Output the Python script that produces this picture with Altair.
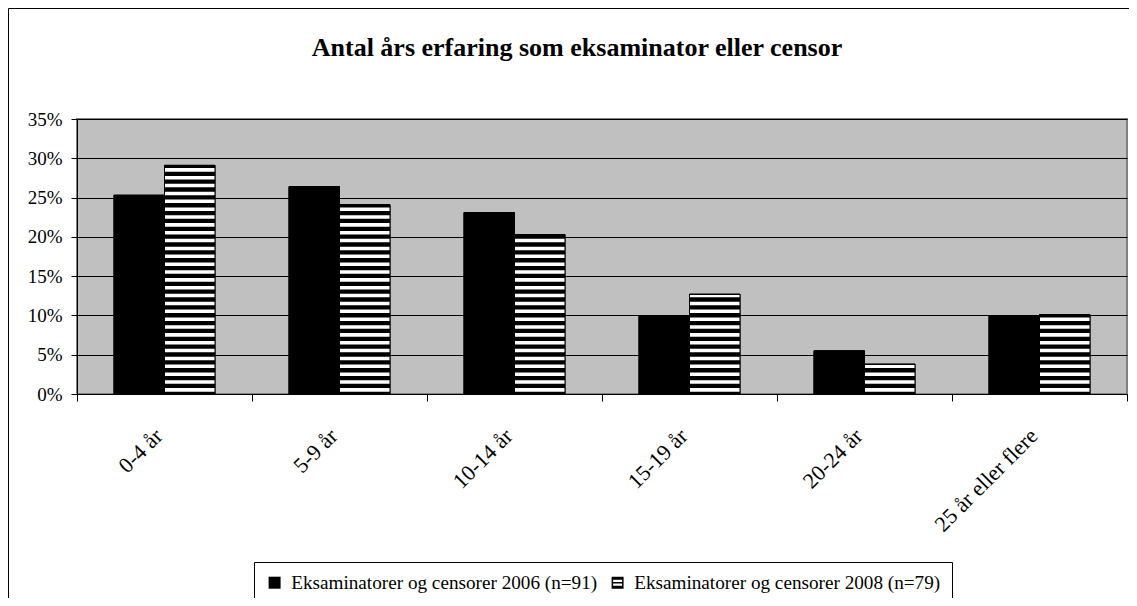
import altair as alt
import pandas as pd

title = "Antal års erfaring som eksaminator eller censor"
categories = ["0-4 år", "5-9 år", "10-14 år", "15-19 år", "20-24 år", "25 år eller flere"]
series = ["Eksaminatorer og censorer 2006 (n=91)", "Eksaminatorer og censorer 2008 (n=79)"]
values_2006 = [0.253, 0.264, 0.231, 0.099, 0.055, 0.099]
values_2008 = [0.291, 0.241, 0.203, 0.127, 0.038, 0.101]
y_ticks = [0, 0.05, 0.10, 0.15, 0.20, 0.25, 0.30, 0.35]

FONT = "Liberation Serif, Times New Roman, serif"

rows = []
for c, v in zip(categories, values_2006):
    rows.append({"cat": c, "series": series[0], "value": v})
for c, v in zip(categories, values_2008):
    rows.append({"cat": c, "series": series[1], "value": v})
df = pd.DataFrame(rows)

# horizontal white stripes for the 2008 series (one per percentage point, derived from the values)
stripes = []
for c, v in zip(categories, values_2008):
    k = 0
    while (k + 0.30) / 100 < v:
        lo = (k + 0.30) / 100
        hi = min((k + 0.75) / 100, v - 0.001)
        if hi > lo:
            stripes.append({"cat": c, "series": series[1], "lo": lo, "hi": hi})
        k += 1
df_str = pd.DataFrame(stripes)

stripe_path = "M-1,-1H1V1H-1Z M-0.75,-0.5V-0.12H0.75V-0.5Z M-0.75,0.14V0.52H0.75V0.14Z"

x_axis = alt.Axis(
    title=None,
    labelAngle=315,
    labelAlign="right",
    labelBaseline="middle",
    labelPadding=31,
    labelOffset=-6,
    labelFont=FONT,
    labelFontSize=22,
    labelColor="black",
    labelOverlap=False,
    tickBand="extent",
    tickSize=7,
    tickColor="black",
    domainColor="black",
    grid=False,
)
# category cells fill the whole width; the gap between groups comes from the offset scale
x_scale = alt.Scale(domain=categories, paddingInner=0, paddingOuter=0)
xo_scale = alt.Scale(domain=series, paddingInner=0, paddingOuter=0.733)
y_scale = alt.Scale(domain=[0, 0.35], nice=False, zero=True)
y_axis = alt.Axis(
    title=None,
    values=y_ticks,
    format=".0%",
    labelFont=FONT,
    labelFontSize=19,
    labelColor="black",
    labelPadding=9,
    labelOverlap=False,
    labelFlush=False,
    tickSize=6,
    tickColor="black",
    domainColor="black",
    grid=True,
    gridColor="black",
    gridWidth=1,
)

bars = alt.Chart(df).mark_bar(color="black", stroke="black", strokeWidth=1).encode(
    x=alt.X("cat:N", sort=categories, scale=x_scale, axis=x_axis),
    xOffset=alt.XOffset("series:N", sort=series, scale=xo_scale),
    y=alt.Y("value:Q", scale=y_scale, axis=y_axis),
)

stripe_layer = alt.Chart(df_str).mark_bar(color="white").encode(
    x=alt.X("cat:N", sort=categories, scale=x_scale, axis=x_axis),
    xOffset=alt.XOffset("series:N", sort=series, scale=xo_scale),
    y=alt.Y("lo:Q", scale=y_scale, axis=y_axis),
    y2="hi:Q",
)

outline = alt.Chart(df).mark_bar(fillOpacity=0, stroke="black", strokeWidth=1).encode(
    x=alt.X("cat:N", sort=categories, scale=x_scale, axis=x_axis),
    xOffset=alt.XOffset("series:N", sort=series, scale=xo_scale),
    y=alt.Y("value:Q", scale=y_scale, axis=y_axis),
)

# off-canvas points (left of the picture) that only carry the legend
legend_layer = alt.Chart(df).mark_point(filled=True, color="black", size=144, opacity=1).encode(
    x=alt.value(-500),
    y=alt.value(100),
    shape=alt.Shape(
        "series:N",
        sort=series,
        scale=alt.Scale(domain=series, range=["square", stripe_path]),
        legend=alt.Legend(
            orient="none",
            legendX=177,
            legendY=443,
            direction="horizontal",
            title=None,
            labelFont=FONT,
            labelFontSize=19.2,
            labelColor="black",
            labelLimit=600,
            labelOffset=7,
            columnPadding=10,
            symbolSize=144,
            symbolStrokeWidth=0,
            symbolFillColor="black",
            strokeColor="black",
            fillColor="white",
            padding=11,
        ),
    ),
)

frame = alt.Chart(pd.DataFrame({"a": [0]})).mark_rect(
    fillOpacity=0, stroke="black", strokeWidth=1
).encode(
    x=alt.value(-68.5),
    x2=alt.value(1200),
    y=alt.value(-110.5),
    y2=alt.value(700),
)

chart = (
    alt.layer(bars, stripe_layer, outline, legend_layer, frame)
    .properties(
        width=1050,
        height=275,
        title=alt.TitleParams(
            text=title,
            font=FONT,
            fontSize=26,
            fontWeight="bold",
            color="black",
            anchor="middle",
            frame="group",
            dx=-25,
            offset=-53,
        ),
        autosize=alt.AutoSizeParams(type="none"),
        padding={"left": 69, "top": 111, "right": 2, "bottom": 204},
        background="white",
    )
    .configure_view(fill="#C0C0C0", stroke="#808080", strokeWidth=2)
)

chart.save("out.html", embed_options={"renderer": "svg", "actions": False})
